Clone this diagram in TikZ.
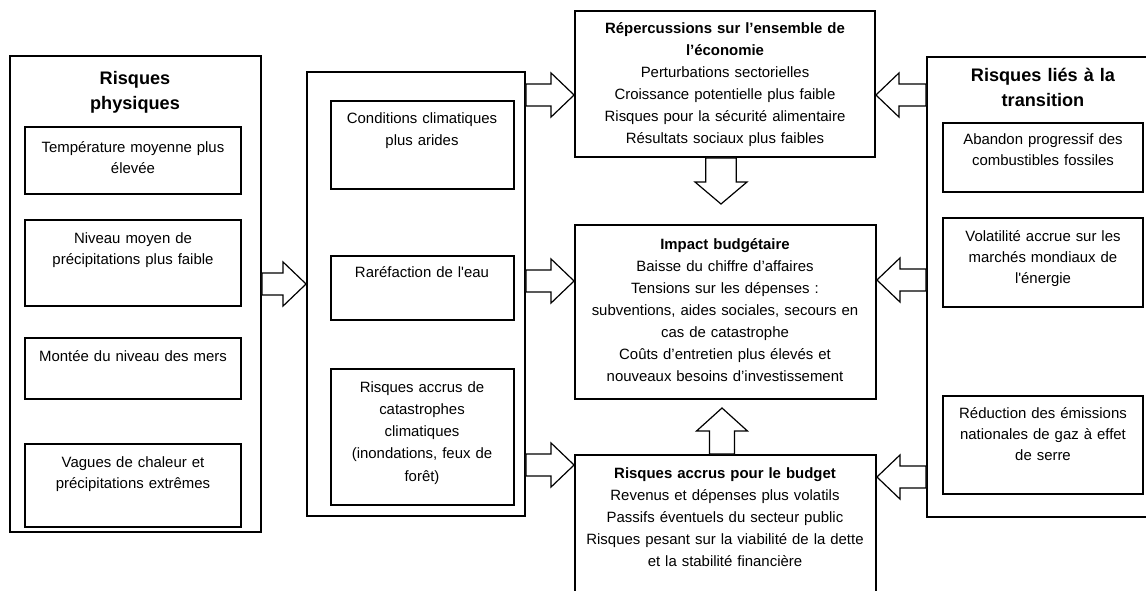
\documentclass[tikz,border=0pt]{standalone}
\usepackage{fontspec}
\setmainfont{Liberation Sans}
\usetikzlibrary{fit,calc}
\tikzset{
 outerbox/.style={draw, line width=1.4pt, inner sep=0pt},
 innerbox/.style={draw, line width=0.9pt, inner sep=0pt},
 txt/.style={anchor=base, align=center, text width=300pt, inner sep=0pt, font={\fontsize{11.2pt}{16.5pt}\selectfont}},
 stxt/.style={txt, font={\fontsize{11.2pt}{16pt}\selectfont}},
 mtxt/.style={txt, font={\fontsize{11.2pt}{16.7pt}\selectfont}},
 ttl/.style={anchor=base, align=center, text width=200pt, inner sep=0pt, font={\fontsize{13.6pt}{18.75pt}\selectfont\bfseries}},
 barrow/.style={draw, line width=0.9pt, fill=white, line join=miter},
}
% horizontal block arrow: #1 start anchor, #2 tip anchor, #3 y (px), #4 signed head length
\newcommand\harr[4]{\draw[barrow] let \p1=(#1), \p2=(#2), \p3=(0,#3) in
 (\x1,{\y3+8.25pt}) -- ({\x2-(#4)},{\y3+8.25pt}) -- ({\x2-(#4)},{\y3+16.5pt}) -- (\x2,\y3)
 -- ({\x2-(#4)},{\y3-16.5pt}) -- ({\x2-(#4)},{\y3-8.25pt}) -- (\x1,{\y3-8.25pt}) -- cycle;}
% vertical block arrow: #1 start anchor, #2 tip coordinate, #3 signed head length, #4 shaft half, #5 head half
\newcommand\varr[5]{\draw[barrow] let \p1=(#1), \p2=(#2) in
 ({\x2-#4},\y1) -- ({\x2-#4},{\y2+(#3)}) -- ({\x2-#5},{\y2+(#3)}) -- (\x2,\y2)
 -- ({\x2+#5},{\y2+(#3)}) -- ({\x2+#4},{\y2+(#3)}) -- ({\x2+#4},\y1) -- cycle;}
\begin{document}
\begin{tikzpicture}[x=0.75pt,y=-0.75pt]
\clip (0,0) rectangle (1146,590);
\fill[white] (0,0) rectangle (1146,590);

% left column
\node[outerbox, fit={(10,56) (261,532)}] (L) {};
\node[ttl] (Lt) at (135,84) {Risques\\physiques};
\node[innerbox, fit={(25,127) (241,194)}] (L1) {};
\node[innerbox, fit={(25,220) (241,306)}] (L2) {};
\node[innerbox, fit={(25,338) (241,399)}] (L3) {};
\node[innerbox, fit={(25,444) (241,527)}] (L4) {};
\node[stxt] (L1t) at (133,152) {Température moyenne plus\\élevée};
\node[stxt] (L2t) at (133,243) {Niveau moyen de\\précipitations plus faible};
\node[stxt] (L3t) at (133,361) {Montée du niveau des mers};
\node[stxt] (L4t) at (133,467) {Vagues de chaleur et\\précipitations extrêmes};

% middle column
\node[outerbox, fit={(307,72) (525,516)}] (M) {};
\node[innerbox, fit={(331,101) (514,189)}] (M1) {};
\node[innerbox, fit={(331,256) (514,320)}] (M2) {};
\node[innerbox, fit={(331,369) (514,505)}] (M3) {};
\node[mtxt] (M1t) at (422,123) {Conditions climatiques\\plus arides};
\node[mtxt] (M2t) at (422,277) {Raréfaction de l\textquotesingle eau};
\node[mtxt] (M3t) at (422,392) {Risques accrus de\\catastrophes\\climatiques\\(inondations, feux de\\forêt)};

% centre column
\node[outerbox, fit={(575,11) (875,157)}] (C1) {};
\node[outerbox, fit={(575,225) (876,399)}] (C2) {};
\node[outerbox, fit={(575,455) (876,600)}] (C3) {};
\node[txt] (C1t) at (725,33) {{\bfseries Répercussions sur l’ensemble de\\l’économie}\\Perturbations sectorielles\\Croissance potentielle plus faible\\Risques pour la sécurité alimentaire\\Résultats sociaux plus faibles};
\node[txt] (C2t) at (725,249) {{\bfseries Impact budgétaire}\\Baisse du chiffre d’affaires\\Tensions sur les dépenses :\\subventions, aides sociales, secours en\\cas de catastrophe\\Coûts d’entretien plus élevés et\\nouveaux besoins d’investissement};
\node[txt] (C3t) at (725,478) {{\bfseries Risques accrus pour le budget}\\Revenus et dépenses plus volatils\\Passifs éventuels du secteur public\\Risques pesant sur la viabilité de la dette\\et la stabilité financière};

% right column
\node[outerbox, fit={(927,57) (1170,517)}] (R) {};
\node[ttl] (Rt) at (1043,81) {Risques liés à la\\transition};
\node[innerbox, fit={(943,123) (1143,192)}] (R1) {};
\node[innerbox, fit={(943,218) (1143,307)}] (R2) {};
\node[innerbox, fit={(943,396) (1143,494)}] (R3) {};
\node[stxt] (R1t) at (1043,144) {Abandon progressif des\\combustibles fossiles};
\node[stxt] (R2t) at (1043,241) {Volatilité accrue sur les\\marchés mondiaux de\\l\textquotesingle énergie};
\node[stxt] (R3t) at (1043,418) {Réduction des émissions\\nationales de gaz à effet\\de serre};

% block arrows
\harr{L.east}{M.west}{284}{17.25pt}
\harr{M.east}{C1.west}{95}{17.25pt}
\harr{M.east}{C2.west}{281}{17.25pt}
\harr{M.east}{C3.west}{465}{17.25pt}
\harr{R.west}{C1.east}{95}{-17.25pt}
\harr{R.west}{C2.east}{280}{-17.25pt}
\harr{R.west}{C3.east}{477}{-17.25pt}
\coordinate (downtip) at (721,204);
\coordinate (uptip) at (722,408);
\varr{C1.south}{downtip}{16.5pt}{11.5pt}{19.5pt}
\varr{C3.north}{uptip}{-17.25pt}{9.4pt}{19.1pt}
\end{tikzpicture}
\end{document}
